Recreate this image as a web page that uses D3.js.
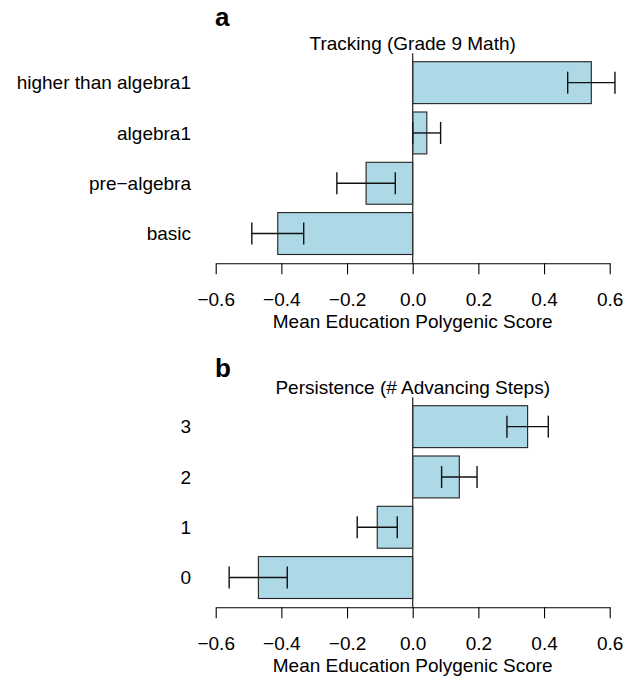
<!DOCTYPE html>
<html>
<head>
<meta charset="utf-8">
<script src="https://cdn.jsdelivr.net/npm/d3@7"></script>
<style>
  body { margin: 0; background: #fff; }
  svg { display: block; }
  text { font-family: "Liberation Sans", Arial, Helvetica, sans-serif; fill: #000; }
</style>
</head>
<body>
<div id="vis-container"></div>
<script>
// panel a: tracking
var trackCats = ["higher than algebra1", "algebra1", "pre\u2212algebra", "basic"];
var trackMean = [0.544, 0.043, -0.142, -0.411];
var trackLo = [0.472, 0.000, -0.231, -0.490];
var trackHi = [0.616, 0.085, -0.053, -0.332];

// panel b: persistence
var persistCats = ["3", "2", "1", "0"];
var persistMean = [0.350, 0.142, -0.108, -0.470];
var persistLo = [0.287, 0.088, -0.169, -0.559];
var persistHi = [0.413, 0.196, -0.047, -0.382];

var xTicks = [-0.6, -0.4, -0.2, 0.0, 0.2, 0.4, 0.6];
var xTitle = "Mean Education Polygenic Score";

var width = 638, height = 676;
var fontSize = 19;

var svg = d3.select("#vis-container")
	.append("svg")
	.attr("width", width)
	.attr("height", height);

var x = d3.scaleLinear().domain([-0.6, 0.6]).range([215.7, 609.7]);

function fmt(d) {
	return d3.format(".1f")(d).replace("-", "\u2212");
}

function drawPanel(offset, letter, letterY, title, cats, mean, lo, hi) {
	var g = svg.append("g").attr("transform", "translate(0," + offset + ")");

	var y = d3.scaleBand()
		.domain(cats)
		.range([61.7, 254.5])
		.paddingInner(1 / 6)
		.paddingOuter(0);

	var rows = cats.map(function (c, i) {
		return { cat: c, mean: mean[i], lo: lo[i], hi: hi[i] };
	});

	// bars
	g.selectAll("rect.bar")
		.data(rows)
		.enter().append("rect")
		.attr("class", "bar")
		.attr("x", function (d) { return x(Math.min(0, d.mean)); })
		.attr("y", function (d) { return y(d.cat); })
		.attr("width", function (d) { return Math.abs(x(d.mean) - x(0)); })
		.attr("height", y.bandwidth())
		.attr("fill", "#ADD8E6")
		.attr("stroke", "#222")
		.attr("stroke-width", 1.1);

	// zero line
	g.append("line")
		.attr("x1", x(0)).attr("x2", x(0))
		.attr("y1", 53.3).attr("y2", 263.3)
		.attr("stroke", "#333")
		.attr("stroke-width", 1.3);

	// error bars
	var eb = g.selectAll("g.err")
		.data(rows)
		.enter().append("g")
		.attr("class", "err")
		.attr("stroke", "#111")
		.attr("stroke-width", 1.4);
	eb.append("line")
		.attr("x1", function (d) { return x(d.lo); })
		.attr("x2", function (d) { return x(d.hi); })
		.attr("y1", function (d) { return y(d.cat) + y.bandwidth() / 2; })
		.attr("y2", function (d) { return y(d.cat) + y.bandwidth() / 2; });
	["lo", "hi"].forEach(function (k) {
		eb.append("line")
			.attr("x1", function (d) { return x(d[k]); })
			.attr("x2", function (d) { return x(d[k]); })
			.attr("y1", function (d) { return y(d.cat) + y.bandwidth() / 2 - 11; })
			.attr("y2", function (d) { return y(d.cat) + y.bandwidth() / 2 + 11; });
	});

	// category labels
	g.selectAll("text.cat")
		.data(rows)
		.enter().append("text")
		.attr("class", "cat")
		.attr("x", 191)
		.attr("y", function (d) { return y(d.cat) + y.bandwidth() / 2; })
		.attr("dy", "0.36em")
		.attr("text-anchor", "end")
		.attr("font-size", fontSize)
		.text(function (d) { return d.cat; });

	// x axis
	var axis = d3.axisBottom(x)
		.tickValues(xTicks)
		.tickFormat(fmt)
		.tickSizeOuter(0)
		.tickSizeInner(11)
		.tickPadding(18);
	var ag = g.append("g")
		.attr("transform", "translate(0,263.3)")
		.call(axis);
	ag.select(".domain").attr("stroke", "#000").attr("stroke-width", 1.1);
	ag.selectAll(".tick line").attr("stroke", "#000").attr("stroke-width", 1.1);
	ag.selectAll(".tick text")
		.attr("font-size", fontSize)
		.attr("font-family", "Liberation Sans, Arial, Helvetica, sans-serif")
		.attr("fill", "#000");

	g.append("text")
		.attr("x", x(0))
		.attr("y", 320.7)
		.attr("dy", "0.36em")
		.attr("text-anchor", "middle")
		.attr("font-size", fontSize)
		.text(xTitle);

	// title
	g.append("text")
		.attr("x", x(0))
		.attr("y", 43.3)
		.attr("dy", "0.36em")
		.attr("text-anchor", "middle")
		.attr("font-size", fontSize)
		.text(title);

	// panel letter
	g.append("text")
		.attr("x", 215)
		.attr("y", letterY)
		.attr("font-size", 26)
		.attr("font-weight", "bold")
		.text(letter);
}

drawPanel(0, "a", 26, "Tracking (Grade 9 Math)", trackCats, trackMean, trackLo, trackHi);
drawPanel(344, "b", 32.7, "Persistence (# Advancing Steps)", persistCats, persistMean, persistLo, persistHi);
</script>
</body>
</html>
